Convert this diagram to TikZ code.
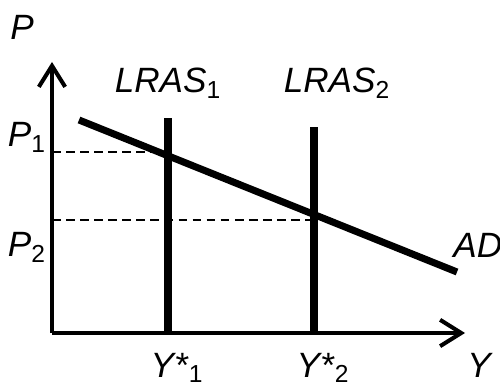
\documentclass[tikz,border=0pt]{standalone}
\usepackage{fontspec}
\setmainfont{Liberation Sans}
\usetikzlibrary{arrows.meta}

\tikzset{
    axis/.style={line width=2.3pt, -{Straight Barb[length=12pt, width=15pt]}},
    curve/.style={line width=4pt},
    guide/.style={line width=1.4pt, dash pattern=on 5pt off 3pt},
    lbl/.style={font=\fontsize{20}{24}\selectfont, inner sep=0pt}
}

\begin{document}
\begin{tikzpicture}
\useasboundingbox (-1.04, -1.08) rectangle (8.96, 6.66);

% axes
\coordinate (O) at (0, 0);
\coordinate (ytip) at (0, 5.42);
\coordinate (xtip) at (8.26, 0);
\draw[axis] (O) -- (ytip);
\draw[axis] (O) -- (xtip);

% long-run supply
\coordinate (l1b) at (2.32, 0);
\coordinate (l1t) at (2.32, 4.3);
\coordinate (l2b) at (5.24, 0);
\coordinate (l2t) at (5.24, 4.12);
\draw[curve] (l1b) -- (l1t);
\draw[curve] (l2b) -- (l2t);

% demand
\coordinate (ads) at (0.54, 4.26);
\coordinate (ade) at (8.1, 1.22);
\draw[curve] (ads) -- (ade);

% price levels
\coordinate (p1) at (0, 3.62);
\coordinate (e1) at (2.32, 3.62);
\coordinate (p2) at (0, 2.26);
\coordinate (e2) at (5.24, 2.26);
\draw[guide] (p1) -- (e1);
\draw[guide] (p2) -- (e2);

% labels
\node[lbl, anchor=base west] (tP) at (-0.84, 5.86) {\textit{P}};
\node[lbl, anchor=base] (tL1) at (2.32, 4.8) {\textit{LRAS}\textsubscript{1}};
\node[lbl, anchor=base] (tL2) at (5.7, 4.8) {\textit{LRAS}\textsubscript{2}};
\node[lbl, anchor=base] (tP1) at (-0.5, 3.72) {\textit{P}\textsubscript{1}};
\node[lbl, anchor=base] (tP2) at (-0.5, 1.52) {\textit{P}\textsubscript{2}};
\node[lbl, anchor=base west] (tAD) at (8.02, 1.5) {\textit{AD}};
\node[lbl, anchor=base] (tY1) at (2.5, -0.88) {\textit{Y*}\textsubscript{1}};
\node[lbl, anchor=base] (tY2) at (5.42, -0.88) {\textit{Y*}\textsubscript{2}};
\node[lbl, anchor=base west] (tY) at (8.3, -0.88) {\textit{Y}};
\end{tikzpicture}
\end{document}
